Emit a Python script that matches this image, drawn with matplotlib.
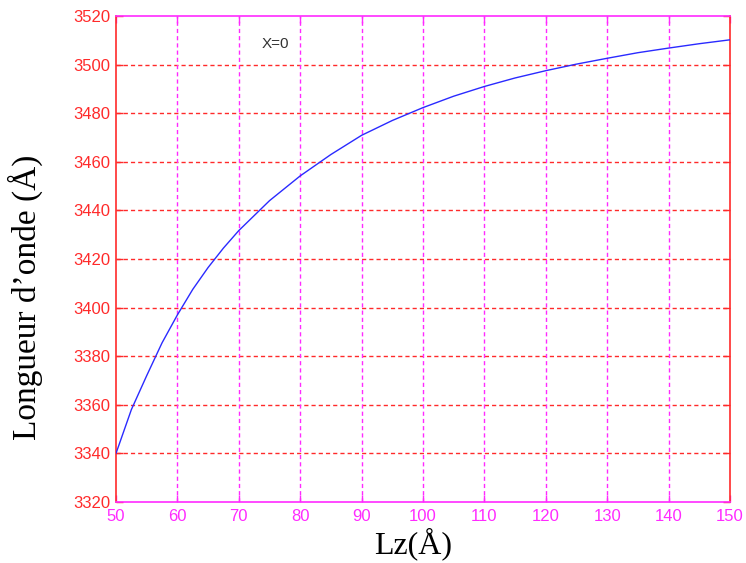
import matplotlib
matplotlib.use("Agg")
import matplotlib.pyplot as plt

# Quantum-well thickness Lz (Å) and emission wavelength (Å) for x = 0
lz = [50, 52.5, 55, 57.5, 60, 62.5, 65, 67.5, 70, 75, 80, 85, 90, 95, 100,
      105, 110, 115, 120, 125, 130, 135, 140, 145, 150]
wavelength = [3340.0, 3358.0, 3372.0, 3385.5, 3397.0, 3407.5, 3416.5, 3424.5,
              3431.7, 3444.0, 3454.2, 3463.0, 3470.9, 3477.0, 3482.3, 3487.0,
              3491.0, 3494.5, 3497.5, 3500.2, 3502.6, 3504.9, 3506.8, 3508.6,
              3510.2]

x_ticks = list(range(50, 151, 10))
y_ticks = list(range(3320, 3521, 20))

RED = "#ff2a2a"
MAGENTA = "#ff2aff"
BLUE = "#2a2aff"

fig = plt.figure(figsize=(7.46, 5.63), dpi=100)
ax = fig.add_axes([116 / 746, 1 - 502 / 563, (730 - 116) / 746, (502 - 16) / 563])

ax.plot(lz, wavelength, color=BLUE, lw=1.0, zorder=3)

ax.set_xlim(50, 150)
ax.set_ylim(3320, 3520)
ax.set_xticks(x_ticks)
ax.set_yticks(y_ticks)

# dashed grid: horizontal in red, vertical in magenta
for yv in y_ticks[1:-1]:
    ax.axhline(yv, color=RED, lw=1.0, ls=(0, (3, 2.2)), zorder=1)
for xv in x_ticks[1:-1]:
    ax.axvline(xv, color=MAGENTA, lw=1.0, ls=(0, (3, 2.2)), zorder=1)

for side in ("left", "right"):
    ax.spines[side].set_color(RED)
    ax.spines[side].set_linewidth(1.2)
for side in ("top", "bottom"):
    ax.spines[side].set_color(MAGENTA)
    ax.spines[side].set_linewidth(1.2)

ax.tick_params(axis="x", direction="in", top=True, length=5, width=1.0,
               colors=MAGENTA, labelsize=12, pad=5)
ax.tick_params(axis="y", direction="in", right=True, length=5, width=1.0,
               colors=RED, labelsize=12, pad=4)
for lbl in ax.get_xticklabels() + ax.get_yticklabels():
    lbl.set_fontfamily("Liberation Sans")

ax.text(75.9, 3508.5, "X=0", ha="center", va="center", fontsize=11,
        color="#333333", family="Liberation Sans")

ax.set_xlabel("Lz(Å)", fontsize=23, family="Liberation Serif")
ax.xaxis.set_label_coords(0.484, -0.052)
ax.set_ylabel("Longueur d’onde (Å)", fontsize=24, family="Liberation Serif")
ax.yaxis.set_label_coords(-0.119, 0.422)

fig.savefig("out.png", dpi=100)
